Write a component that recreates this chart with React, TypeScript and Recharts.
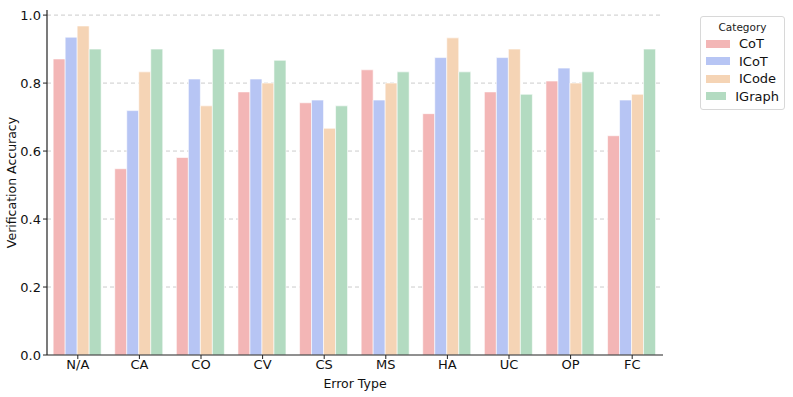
import React from 'react';
import { BarChart, Bar, XAxis, YAxis, CartesianGrid } from 'recharts';

const errorTypes = ['N/A', 'CA', 'CO', 'CV', 'CS', 'MS', 'HA', 'UC', 'OP', 'FC'];
const cot = [0.871, 0.548, 0.581, 0.774, 0.742, 0.839, 0.71, 0.774, 0.806, 0.645];
const icot = [0.935, 0.719, 0.812, 0.812, 0.75, 0.75, 0.875, 0.875, 0.844, 0.75];
const icode = [0.968, 0.833, 0.733, 0.8, 0.667, 0.8, 0.933, 0.9, 0.8, 0.767];
const igraph = [0.9, 0.9, 0.9, 0.867, 0.733, 0.833, 0.833, 0.767, 0.833, 0.9];
const yTicks = [0, 0.2, 0.4, 0.6, 0.8, 1.0];
const gridValues = [0.2, 0.4, 0.6, 0.8, 1.0];

const SERIES = [
  { key: 'CoT', color: '#f3b6b6' },
  { key: 'ICoT', color: '#b7c5f4' },
  { key: 'ICode', color: '#f5d4b5' },
  { key: 'IGraph', color: '#b3dbc1' },
];

const data = errorTypes.map((t, i) => ({
  type: t,
  CoT: cot[i],
  ICoT: icot[i],
  ICode: icode[i],
  IGraph: igraph[i],
}));

const FONT = 'DejaVu Sans, sans-serif';

const LegendBox = () => (
  <div
    style={{
      position: 'absolute',
      left: 700,
      top: 16,
      width: 73,
      border: '1px solid #d8d8d8',
      borderRadius: 3,
      padding: '4px 5px 4px 5px',
      background: '#fff',
      fontFamily: FONT,
    }}
  >
    <div style={{ fontSize: 10.5, textAlign: 'center', color: '#222', marginBottom: 2 }}>Category</div>
    {SERIES.map((s) => (
      <div key={s.key} style={{ display: 'flex', alignItems: 'center', height: 17.5 }}>
        <span style={{ width: 24, height: 8, background: s.color, display: 'inline-block', marginRight: 9 }} />
        <span style={{ fontSize: 13, color: '#111' }}>{s.key}</span>
      </div>
    ))}
  </div>
);

export default function App() {
  return (
    <div style={{ position: 'absolute', left: 0, top: 0, width: 793, height: 397, background: '#fff' }}>
      <BarChart
        width={793}
        height={397}
        data={data}
        margin={{ top: 10, right: 130, left: 0, bottom: 0 }}
        barCategoryGap="10%"
        barGap={0}
      >
        <CartesianGrid vertical={false} horizontalValues={gridValues} stroke="#cccccc" strokeDasharray="4 3" />
        <XAxis
          dataKey="type"
          height={42}
          tickSize={4}
          tickMargin={1}
          tickLine={{ stroke: '#222' }}
          axisLine={{ stroke: '#222', strokeWidth: 1.2 }}
          tick={{ fill: '#111', fontSize: 13, fontFamily: FONT }}
          label={{ value: 'Error Type', position: 'insideBottom', offset: 9, fill: '#111', fontSize: 12.5, fontFamily: FONT }}
        />
        <YAxis
          width={47}
          domain={[0, 1.015]}
          ticks={yTicks}
          tickFormatter={(v: number) => v.toFixed(1)}
          tickSize={4}
          tickLine={{ stroke: '#222' }}
          axisLine={{ stroke: '#222', strokeWidth: 1.2 }}
          tick={{ fill: '#111', fontSize: 13, fontFamily: FONT }}
          label={{
            value: 'Verification Accuracy',
            angle: -90,
            position: 'insideLeft',
            offset: 12,
            style: { textAnchor: 'middle' },
            fill: '#111',
            fontSize: 12.5,
            fontFamily: FONT,
          }}
        />
        {SERIES.map((s) => (
          <Bar key={s.key} dataKey={s.key} fill={s.color} stroke="#ffffff" strokeWidth={0.6} isAnimationActive={false} />
        ))}
      </BarChart>
      <LegendBox />
    </div>
  );
}
